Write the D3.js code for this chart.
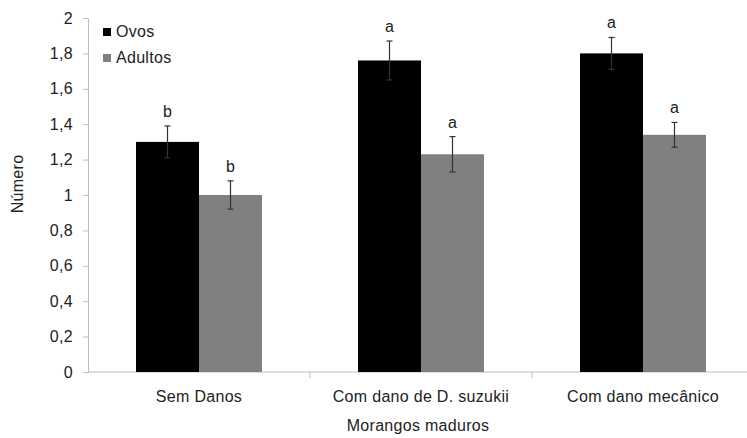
<!DOCTYPE html>
<html>
<head>
<meta charset="utf-8">
<script src="https://cdnjs.cloudflare.com/ajax/libs/d3/7.8.5/d3.min.js"></script>
<style>
  body { margin: 0; background: #fff; }
  text { font-family: "Liberation Sans", Arial, sans-serif; fill: #222; letter-spacing: 0.3px; }
</style>
</head>
<body>
<svg id="chart" width="747" height="438"></svg>
<script>
// data
const categories = ["Sem Danos", "Com dano de D. suzukii", "Com dano mecânico"];
const seriesNames = ["Ovos", "Adultos"];
const ovos = [1.30, 1.76, 1.80];
const adultos = [1.00, 1.23, 1.34];
const ovosErr = [0.09, 0.11, 0.09];
const adultosErr = [0.08, 0.10, 0.07];
const letrasOvos = ["b", "a", "a"];
const letrasAdultos = ["b", "a", "a"];
const yTicks = [0, 0.2, 0.4, 0.6, 0.8, 1, 1.2, 1.4, 1.6, 1.8, 2];

const colors = { "Ovos": "#000000", "Adultos": "#808080" };

const svg = d3.select("#chart");
const plotLeft = 88, plotRight = 754, plotTop = 18, plotBottom = 372;

const x = d3.scaleBand().domain(categories).range([plotLeft, plotRight]).paddingInner(0).paddingOuter(0);
const x1 = d3.scaleBand().domain(seriesNames).range([0, 126]);
const y = d3.scaleLinear().domain([0, 2]).range([plotBottom, plotTop]);

const fmt = d => String(+d.toFixed(1)).replace(".", ",");

// y axis
const yAxis = svg.append("g")
  .attr("transform", `translate(${plotLeft},0)`)
  .call(d3.axisLeft(y).tickValues(yTicks).tickFormat(fmt).tickSize(5));
yAxis.select(".domain").attr("stroke", "#bdbdbd");
yAxis.selectAll(".tick line").attr("stroke", "#bdbdbd");
yAxis.selectAll(".tick text").attr("font-size", 16).attr("x", -15).style("fill", "#222");

// x axis: ticks at band edges
svg.append("line")
  .attr("x1", plotLeft).attr("x2", plotRight)
  .attr("y1", plotBottom).attr("y2", plotBottom)
  .attr("stroke", "#bdbdbd");
svg.append("g").selectAll("line")
  .data(categories.slice(1))
  .join("line")
  .attr("x1", d => x(d)).attr("x2", d => x(d))
  .attr("y1", plotBottom).attr("y2", plotBottom + 6)
  .attr("stroke", "#bdbdbd");
svg.append("g").selectAll("text")
  .data(categories)
  .join("text")
  .attr("x", d => x(d) + x.bandwidth() / 2)
  .attr("y", 402)
  .attr("text-anchor", "middle")
  .attr("font-size", 16)
  .text(d => d);

// bars
const rows = categories.map((c, i) => [
  { cat: c, s: "Ovos", v: ovos[i], e: ovosErr[i], l: letrasOvos[i] },
  { cat: c, s: "Adultos", v: adultos[i], e: adultosErr[i], l: letrasAdultos[i] }
]).flat();

const g = svg.append("g");
const gx = d => x(d.cat) + (x.bandwidth() - 126) / 2 + x1(d.s);

g.selectAll("rect")
  .data(rows)
  .join("rect")
  .attr("x", d => gx(d))
  .attr("y", d => y(d.v))
  .attr("width", x1.bandwidth())
  .attr("height", d => y(0) - y(d.v))
  .attr("fill", d => colors[d.s]);

// error bars
const err = g.selectAll("g.err")
  .data(rows)
  .join("g")
  .attr("class", "err")
  .attr("transform", d => `translate(${gx(d) + x1.bandwidth() / 2},0)`);
err.append("line")
  .attr("y1", d => y(d.v - d.e)).attr("y2", d => y(d.v + d.e))
  .attr("stroke", "#333").attr("stroke-width", 1.2);
err.selectAll("line.cap")
  .data(d => [d.v - d.e, d.v + d.e])
  .join("line")
  .attr("class", "cap")
  .attr("x1", -3).attr("x2", 3)
  .attr("y1", v => y(v)).attr("y2", v => y(v))
  .attr("stroke", "#333").attr("stroke-width", 1.2);
err.append("text")
  .attr("y", d => y(d.v + d.e) - 9)
  .attr("text-anchor", "middle")
  .attr("font-size", 16)
  .text(d => d.l);

// legend
const leg = svg.append("g").selectAll("g")
  .data(seriesNames)
  .join("g")
  .attr("transform", (d, i) => `translate(103,${32 + i * 26})`);
leg.append("rect")
  .attr("x", 0).attr("y", -4).attr("width", 8).attr("height", 8)
  .attr("fill", d => colors[d]);
leg.append("text")
  .attr("x", 13).attr("y", 5)
  .attr("font-size", 16)
  .text(d => d);

// axis titles
svg.append("text")
  .attr("transform", `translate(23,184) rotate(-90)`)
  .attr("text-anchor", "middle")
  .attr("font-size", 16)
  .text("Número");
svg.append("text")
  .attr("x", 418).attr("y", 431)
  .attr("text-anchor", "middle")
  .attr("font-size", 16)
  .text("Morangos maduros");
</script>
</body>
</html>
